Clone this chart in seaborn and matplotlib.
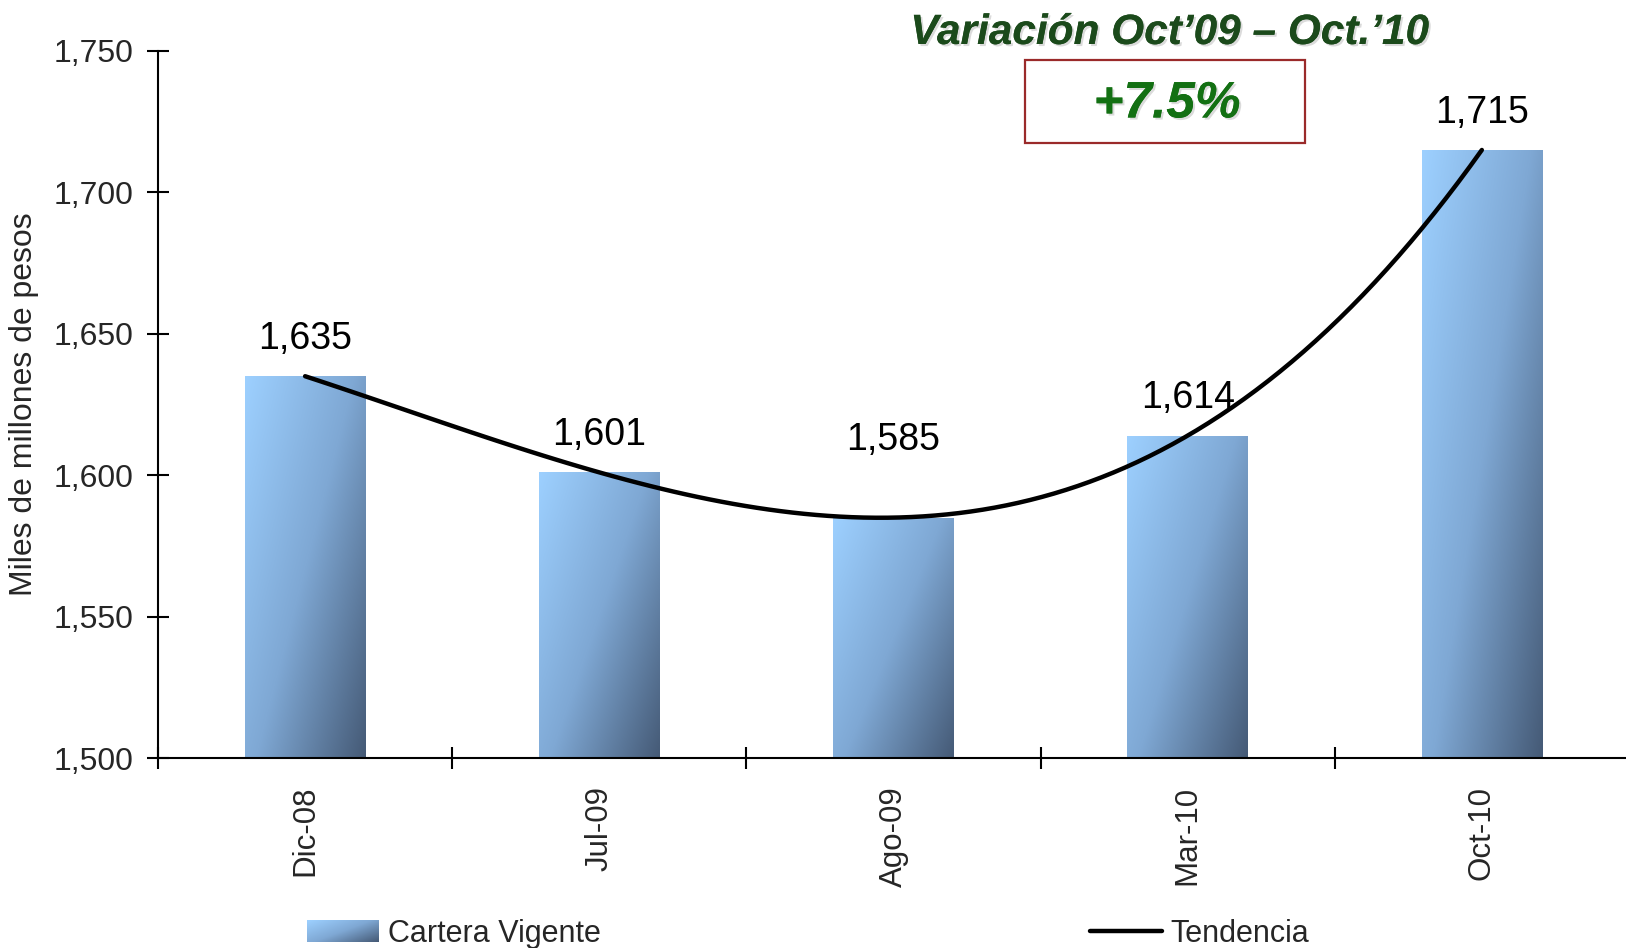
import numpy as np
import pandas as pd
import matplotlib
matplotlib.use('Agg')
import matplotlib.pyplot as plt
import matplotlib.patheffects as pe
from matplotlib.colors import LinearSegmentedColormap
from matplotlib.legend_handler import HandlerBase
from matplotlib.image import BboxImage
from matplotlib.transforms import Bbox, TransformedBbox
from matplotlib.lines import Line2D
from matplotlib.patches import Rectangle
from matplotlib.ticker import FuncFormatter, FixedLocator
import seaborn as sns

# data
periods = ['Dic-08', 'Jul-09', 'Ago-09', 'Mar-10', 'Oct-10']
cartera = [1635, 1601, 1585, 1614, 1715]
y_ticks = [1500, 1550, 1600, 1650, 1700, 1750]
title_text = 'Variación Oct\u201909 \u2013 Oct.\u201910'
variation_text = '+7.5%'
series_names = ['Cartera Vigente', 'Tendencia']
y_label = 'Miles de millones de pesos'

# label offsets above each bar (points)
label_offsets = [14, 14, 43, 14, 14]

sns.set_style('white')
plt.rcParams['font.family'] = ['Liberation Sans', 'DejaVu Sans']

bar_cmap = LinearSegmentedColormap.from_list('bar', ['#9dd0ff', '#7fa8d4', '#455a76'])


def gradient_array(n=200):
    u = np.linspace(0, 1, n)
    v = np.linspace(0, 1, n)
    uu, vv = np.meshgrid(u, v)
    return 0.55 * uu + 0.45 * vv


class GradientPatchHandler(HandlerBase):
    def create_artists(self, legend, orig_handle, xdescent, ydescent, width, height, fontsize, trans):
        box = TransformedBbox(Bbox.from_bounds(-xdescent, -ydescent, width, height), trans)
        img = BboxImage(box, cmap=bar_cmap, norm=plt.Normalize(0, 1), interpolation='bilinear')
        img.set_data(gradient_array(50))
        return [img]


df = pd.DataFrame({'Periodo': periods, 'Cartera': cartera})

fig = plt.figure(figsize=(16.26, 9.48), dpi=100)
ax = fig.add_axes([158 / 1626, 1 - 758 / 948, 1 - 158 / 1626, (758 - 51) / 948])

sns.barplot(data=df, x='Periodo', y='Cartera', ax=ax, width=0.41, color='#7fa8d4', zorder=2)

ymin, ymax = 1500, 1750
grad = gradient_array()
for patch in ax.patches:
    x0 = patch.get_x()
    x1 = x0 + patch.get_width()
    top = patch.get_y() + patch.get_height()
    patch.set_facecolor('none')
    patch.set_edgecolor('none')
    im = ax.imshow(grad, extent=[x0, x1, ymin, top], aspect='auto', cmap=bar_cmap,
                   norm=plt.Normalize(0, 1), interpolation='bilinear', zorder=2)
    im.set_clip_path(patch)

# trend line (polynomial trendline, as in the original)
sns.regplot(x=np.arange(len(cartera)), y=np.array(cartera), order=4, ci=None, scatter=False,
            ax=ax, line_kws={'color': 'black', 'lw': 3.2, 'zorder': 4})

for i, val in enumerate(cartera):
    ax.annotate(f'{val:,}', xy=(i, val), xytext=(0, label_offsets[i]), textcoords='offset points',
                ha='center', va='bottom', fontsize=27, color='black', zorder=5)

ax.set_xlim(-0.5, 4.49)
ax.set_ylim(ymin, ymax)
ax.set_yticks(y_ticks)
ax.yaxis.set_major_formatter(FuncFormatter(lambda v, p: f'{int(v):,}'))

ax.xaxis.set_major_locator(FixedLocator([-0.5, 0.5, 1.5, 2.5, 3.5]))
ax.xaxis.set_minor_locator(FixedLocator(list(range(len(periods)))))
ax.set_xticklabels([], minor=False)
ax.set_xticklabels(periods, minor=True, rotation=90, fontsize=22.5)
ax.tick_params(axis='x', which='major', bottom=True, direction='inout', length=16, width=1.5, color='black')
ax.tick_params(axis='x', which='minor', bottom=True, length=0, pad=20)
ax.tick_params(axis='y', left=True, direction='inout', length=16, width=1.5, color='black',
               labelsize=23, pad=10)

ax.set_xlabel('')
ax.set_ylabel(y_label, fontsize=23)
ax.yaxis.set_label_coords((39 - 158) / 1468, 0.5)

for side in ['top', 'right']:
    ax.spines[side].set_visible(False)
for side in ['left', 'bottom']:
    ax.spines[side].set_color('black')
    ax.spines[side].set_linewidth(1.5)
    ax.spines[side].set_zorder(6)

# variation annotation
shadow = [pe.withSimplePatchShadow(offset=(1.5, -1.5), shadow_rgbFace='#999999', alpha=0.35), pe.Normal()]
fig.text(1170 / 1626, 1 - 33 / 948, title_text, ha='center', va='center', fontsize=30.5,
         fontweight='bold', fontstyle='italic', color='#1b4a1b', path_effects=shadow)
fig.patches.append(Rectangle((1024.5 / 1626, 1 - 143 / 948), 280 / 1626, 83 / 948,
                             transform=fig.transFigure, facecolor='white', edgecolor='#9a2a2a', lw=1.6))
fig.text(1167 / 1626, 1 - 104 / 948, variation_text, ha='center', va='center', fontsize=37,
         fontweight='bold', fontstyle='italic', color='#137013', path_effects=shadow)

# legend
bar_handle = Rectangle((0, 0), 1, 1)
line_handle = Line2D([0], [0], color='black', lw=3.2)
fig.legend([bar_handle, line_handle], series_names, handler_map={Rectangle: GradientPatchHandler()},
           loc='center left', bbox_to_anchor=(307 / 1626, 1 - 934 / 948), ncol=2, frameon=False,
           fontsize=22, borderpad=0, borderaxespad=0, handlelength=2.35, handletextpad=0.3,
           columnspacing=16.0, handleheight=0.7)

fig.savefig('out.png', dpi=100)
